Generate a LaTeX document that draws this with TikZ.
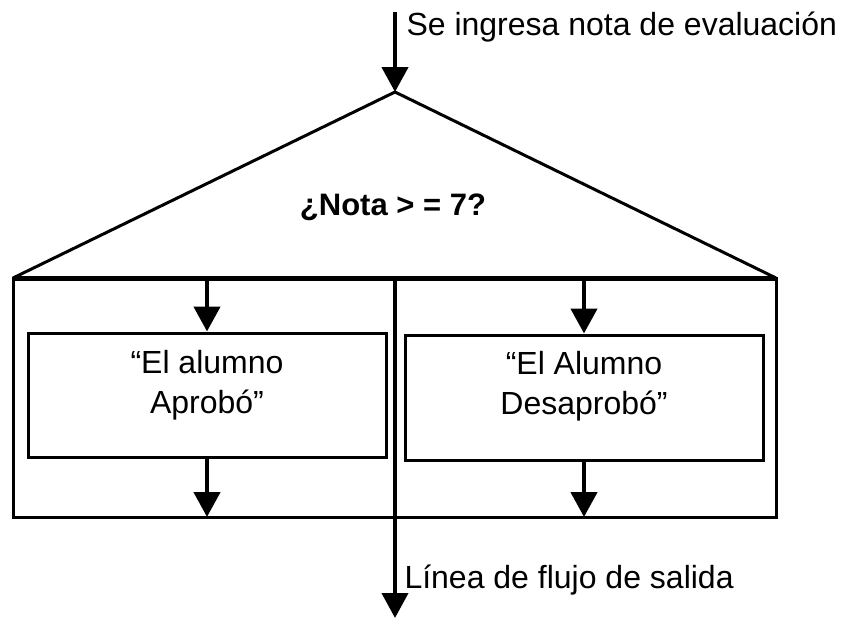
\documentclass[tikz,border=0pt]{standalone}
\usepackage{fontspec}
\setmainfont{Liberation Sans}
\usetikzlibrary{arrows.meta}

\begin{document}
\begin{tikzpicture}[x=1pt, y=-1pt, line width=3pt,
    every node/.style={font=\fontsize{32}{40}\selectfont},
    flecha/.style={-{Triangle[width=26pt,length=25pt]}, line width=4.5pt},
    caja/.style={draw, line width=3pt, minimum width=358pt, minimum height=124pt, inner sep=0pt},
    texto/.style={align=center, inner sep=0pt, anchor=base}]
    \useasboundingbox (0,0) rectangle (841,619);

    % Draw the decision triangle
    \coordinate (apex) at (395,92);
    \coordinate (izq) at (13,278);
    \coordinate (der) at (776,278);
    \coordinate (abajo) at (776,517);
    \draw (izq) -- (apex) -- (der);
    \node[anchor=base, inner sep=0pt, font=\bfseries\fontsize{31}{36}\selectfont] (cond) at (393,215) {¿Nota > = 7?};

    % Draw the outer frame and the thick bar
    \draw (izq) rectangle (abajo);
    \draw[line width=5pt] (izq) -- (der);

    % Draw the incoming flow line
    \coordinate (entrada) at (395,12);
    \draw[flecha] (entrada) -- (apex);
    \node[anchor=base west, inner sep=0pt] (txtentrada) at (405,35) {Se ingresa nota de evaluación};

    % Draw the two boxes
    \node[caja] (aprobo) at (207,395) {};
    \node[texto] (txtaprobo) at (207,413) {“El alumno\\Aprobó”};
    \node[caja, minimum height=125pt] (desaprobo) at (584,397.5) {};
    \node[texto] (txtdesaprobo) at (584,414) {“El Alumno\\Desaprobó”};

    % Draw the arrows into and out of the boxes
    \draw[flecha] (aprobo.north |- izq) -- (aprobo.north);
    \draw[flecha] (aprobo.south) -- (aprobo.south |- abajo);
    \draw[flecha] (desaprobo.north |- der) -- (desaprobo.north);
    \draw[flecha] (desaprobo.south) -- (desaprobo.south |- abajo);

    % Draw the outgoing flow line
    \coordinate (salida) at (395,618);
    \draw[flecha, line width=4pt] (apex |- izq) -- (salida);
    \node[anchor=base west, inner sep=0pt] (txtsalida) at (403,588) {Línea de flujo de salida};
\end{tikzpicture}
\end{document}
